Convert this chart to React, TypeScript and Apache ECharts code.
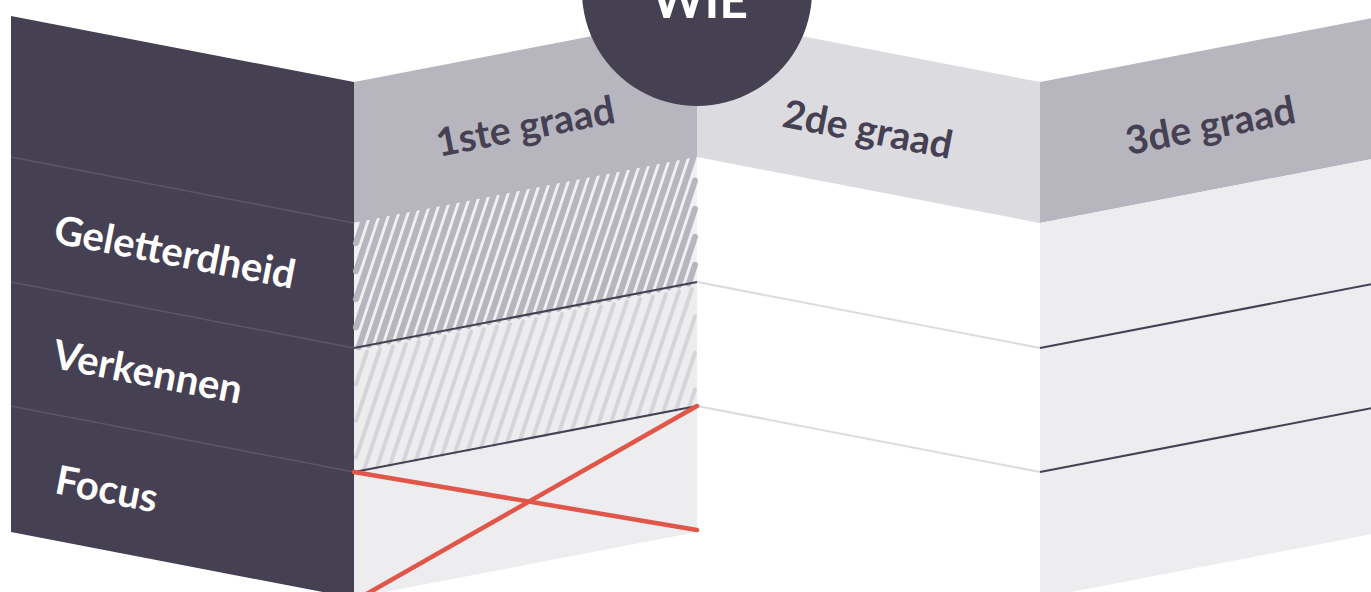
import React, { useEffect, useRef } from "react";
import * as echarts from "echarts";

const TITLE = "WIE";
const COLUMNS = ["1ste graad", "2de graad", "3de graad"];
const ROWS = ["Geletterdheid", "Verkennen", "Focus"];

// zigzag fold geometry (illustration layout)
const BX = [11, 354, 697, 1040, 1383];
const BY = [16, 82, 16, 82, 16];
const OFF = [0, 141, 266, 390, 516];

const DARK = "#464053";
const MID = "#b7b6be";
const LIGHT = "#dcdbdf";
const PALE = "#ededf0";
const RED = "#e0574a";

function band(i: number, o1: number, o2: number) {
  const x0 = BX[i], x1 = BX[i + 1], y0 = BY[i], y1 = BY[i + 1];
  return [[x0, y0 + o1], [x1, y1 + o1], [x1, y1 + o2], [x0, y0 + o2]];
}

function edgeLine(i: number, o: number, stroke: string, w: number) {
  return {
    type: "line",
    shape: { x1: BX[i], y1: BY[i] + o, x2: BX[i + 1], y2: BY[i + 1] + o },
    style: { stroke, lineWidth: w },
    silent: true,
  };
}

function poly(points: number[][], fill: string) {
  return { type: "polygon", shape: { points }, style: { fill }, silent: true };
}

function hatch(i: number, o1: number, o2: number, stroke: string, w: number, spacing: number, over: number) {
  const x0 = BX[i], x1 = BX[i + 1];
  const m = (BY[i + 1] - BY[i]) / (x1 - x0);
  const h = o2 - o1 + over;
  const steep = 3;
  const d = h / (steep + m);
  const yB = (x: number) => BY[i] + o2 + m * (x - x0);
  const out: any[] = [];
  for (let xb = x0 - d; xb < x1; xb += spacing) {
    const yb = yB(xb);
    const yl = (x: number) => yb - steep * (x - xb);
    const sx = Math.max(xb, x0 + 2);
    const ex = Math.min(xb + d, x1 - 2);
    if (ex <= sx) continue;
    out.push({
      type: "line",
      shape: { x1: sx, y1: yl(sx), x2: ex, y2: yl(ex) },
      style: { stroke, lineWidth: w, lineCap: "round" },
      silent: true,
    });
  }
  return out;
}

function txt(text: string, x: number, y: number, rot: number, size: number, fill: string) {
  return {
    type: "text",
    x,
    y,
    rotation: rot,
    silent: true,
    style: {
      text,
      fill,
      fontSize: size,
      fontWeight: "bold",
      fontFamily: "Lato, 'Open Sans', sans-serif",
      textAlign: "center",
      textVerticalAlign: "middle",
      align: "center",
      verticalAlign: "middle",
    },
  };
}

export default function App() {
  const ref = useRef<HTMLDivElement>(null);
  useEffect(() => {
    if (!ref.current) return;
    const chart = echarts.init(ref.current, undefined, { renderer: "svg" });
    const ang = Math.atan(66 / 343);
    const els: any[] = [];
    // panel 0 (dark labels column)
    els.push(poly(band(0, OFF[0], OFF[4]), DARK));
    [1, 2, 3].forEach((k) => els.push(edgeLine(0, OFF[k], "#5b5568", 1.5)));
    // panel 1
    els.push(poly(band(1, OFF[0], OFF[1]), MID));
    els.push(poly(band(1, OFF[1], OFF[2]), "#f1f1f3"));
    els.push(poly(band(1, OFF[2], OFF[3]), PALE));
    els.push(poly(band(1, OFF[3], OFF[4]), PALE));
    els.push(...hatch(1, OFF[1], OFF[2], MID, 6, 10, 2));
    els.push(...hatch(1, OFF[2], OFF[3], "#d5d5d9", 4, 13, -6));
    els.push(edgeLine(1, OFF[2], DARK, 2));
    els.push(edgeLine(1, OFF[3], DARK, 2));
    // panel 2
    els.push(poly(band(2, OFF[0], OFF[1]), LIGHT));
    els.push(edgeLine(2, OFF[2], LIGHT, 2));
    els.push(edgeLine(2, OFF[3], LIGHT, 2));
    // panel 3
    els.push(poly(band(3, OFF[0], OFF[1]), MID));
    els.push(poly(band(3, OFF[1], OFF[4]), PALE));
    els.push(edgeLine(3, OFF[2], DARK, 2));
    els.push(edgeLine(3, OFF[3], DARK, 2));
    // red cross in Focus cell of 1ste graad
    els.push({
      type: "line",
      shape: { x1: BX[1], y1: BY[1] + OFF[3], x2: BX[2], y2: BY[2] + OFF[4] - 2 },
      style: { stroke: RED, lineWidth: 4.5, lineCap: "round" },
      silent: true,
    });
    els.push({
      type: "line",
      shape: { x1: BX[2], y1: BY[2] + OFF[3], x2: BX[1] + 2, y2: 600 },
      style: { stroke: RED, lineWidth: 4.5, lineCap: "round" },
      silent: true,
    });
    // circle title
    els.push({ type: "circle", shape: { cx: 697, cy: -9, r: 115 }, style: { fill: DARK }, silent: true });
    els.push(txt(TITLE, 700, -1, 0, 50, "#ffffff"));
    // column headers
    els.push(txt(COLUMNS[0], 525, 125, ang, 39, DARK));
    els.push(txt(COLUMNS[1], 868, 128, -ang, 39, DARK));
    els.push(txt(COLUMNS[2], 1210, 124, ang, 39, DARK));
    // row labels
    els.push(txt(ROWS[0], 175, 251, -ang, 40, "#ffffff"));
    els.push(txt(ROWS[1], 148, 371, -ang, 40, "#ffffff"));
    els.push(txt(ROWS[2], 107, 488, -ang, 40, "#ffffff"));

    chart.setOption({
      animation: false,
      backgroundColor: "#ffffff",
      graphic: { elements: els },
    });
    return () => chart.dispose();
  }, []);
  return (
    <div
      ref={ref}
      style={{ position: "fixed", left: 0, top: 0, width: 1371, height: 592 }}
    />
  );
}
